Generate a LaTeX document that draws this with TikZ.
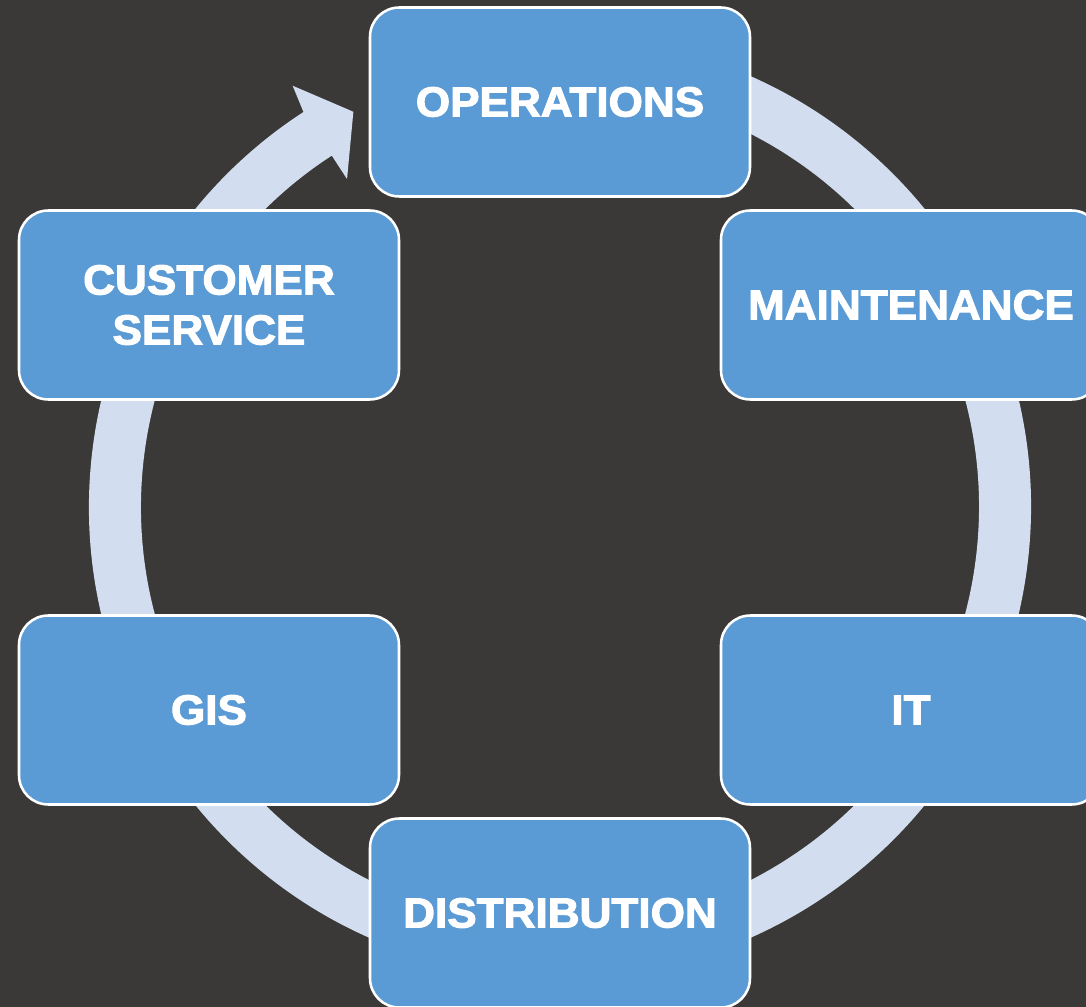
\documentclass[tikz,border=0pt]{standalone}
\usepackage{fontspec}
\newfontfamily\boxfont{Liberation Sans}[BoldFeatures={FakeBold=2.5,FakeStretch=1.05}]
\definecolor{bgc}{HTML}{3B3938}
\definecolor{boxc}{HTML}{5B9BD5}
\definecolor{ringc}{HTML}{D2DEEF}
\tikzset{
  stagebox/.style={draw=white, line width=1.9pt, fill=boxc, rounded corners=22pt,
    minimum width=285pt, minimum height=141.75pt, inner sep=0pt, align=center,
    text=white, font=\boxfont\bfseries\fontsize{31.5}{37.5}\selectfont}
}
\begin{document}
\begin{tikzpicture}[x=0.75pt,y=0.75pt]
\useasboundingbox (-560,-500) rectangle (526,507);
\fill[bgc] (-560,-500) rectangle (526,507);
% ring with arrowhead
\fill[ringc] (80:471) arc[start angle=80, end angle=-237, radius=471]
  -- (-237.6:499) -- (-242.4:446) -- (-237:391) -- (-237:419)
  arc[start angle=-237, end angle=80, radius=419] -- cycle;
% stages
\node[stagebox] (ops)  at (0,405)     {OPERATIONS};
\node[stagebox] (mnt)  at (351,202)   {MAINTENANCE};
\node[stagebox] (it)   at (351,-203)  {IT};
\node[stagebox] (dist) at (0,-406)    {DISTRIBUTION};
\node[stagebox] (gis)  at (-351,-203) {GIS};
\node[stagebox] (cs)   at (-351,202)  {CUSTOMER\\SERVICE};
\end{tikzpicture}
\end{document}
